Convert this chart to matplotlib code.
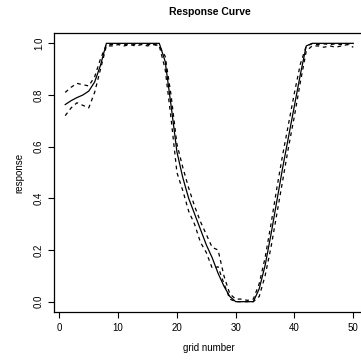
import numpy as np
import matplotlib
matplotlib.use("Agg")
import matplotlib.pyplot as plt

plt.rcParams['font.family'] = ['Liberation Sans', 'DejaVu Sans']

grid = np.arange(1, 51)

response = [0.763, 0.778, 0.790, 0.800, 0.815, 0.850, 0.915, 1.0, 1.0, 1.0,
            1.0, 1.0, 1.0, 1.0, 1.0, 1.0, 1.0, 0.93, 0.76, 0.58,
            0.48, 0.40, 0.34, 0.28, 0.22, 0.17, 0.11, 0.06, 0.02, 0.0,
            0.0, 0.0, 0.0, 0.05, 0.14, 0.26, 0.39, 0.52, 0.64, 0.76,
            0.88, 0.99, 1.0, 1.0, 1.0, 1.0, 1.0, 1.0, 1.0, 1.0]

upper = [0.81, 0.83, 0.845, 0.84, 0.835, 0.87, 0.94, 0.995, 0.995, 0.998,
         0.995, 0.998, 0.995, 0.998, 0.995, 0.998, 0.99, 0.95, 0.80, 0.61,
         0.52, 0.44, 0.37, 0.31, 0.26, 0.21, 0.20, 0.10, 0.03, 0.01,
         0.01, 0.005, 0.01, 0.07, 0.17, 0.30, 0.44, 0.57, 0.69, 0.81,
         0.92, 0.99, 0.998, 0.995, 0.998, 0.995, 0.998, 0.995, 0.998, 0.995]

lower = [0.72, 0.75, 0.77, 0.76, 0.75, 0.81, 0.90, 0.99, 0.99, 0.995,
         0.99, 0.995, 0.99, 0.995, 0.99, 0.995, 0.99, 0.90, 0.71, 0.50,
         0.43, 0.35, 0.30, 0.23, 0.19, 0.13, 0.135, 0.07, 0.01, 0.0,
         0.0, 0.0, 0.0, 0.02, 0.10, 0.21, 0.34, 0.47, 0.60, 0.72,
         0.85, 0.97, 0.99, 0.99, 0.985, 0.99, 0.985, 0.99, 0.995, 0.985]

fig = plt.figure(figsize=(3.61, 3.62), dpi=100)
ax = fig.add_axes([53.7 / 361, 1 - 312.0 / 362, 311.1 / 361, 279.0 / 362])

ax.plot(grid, response, color='black', lw=0.9)
ax.plot(grid, upper, color='black', lw=0.9, ls=(0, (3, 3)))
ax.plot(grid, lower, color='black', lw=0.9, ls=(0, (3, 3)))

ax.set_xlim(-0.96, 51.96)
ax.set_ylim(-0.04, 1.04)
ax.set_xticks([0, 10, 20, 30, 40, 50])
ax.set_yticks([0.0, 0.2, 0.4, 0.6, 0.8, 1.0])
ax.set_yticklabels(['0.0', '0.2', '0.4', '0.6', '0.8', '1.0'], rotation=90, va='center')
ax.tick_params(labelsize=7, length=4, width=0.8)
ax.tick_params(axis='x', pad=4)
ax.tick_params(axis='y', pad=3)
for s in ax.spines.values():
    s.set_linewidth(0.9)

ax.set_xlabel('grid number', fontsize=7, labelpad=7)
ax.set_ylabel('response', fontsize=7, labelpad=7)
fig.text(209.5 / 361, 1 - 12 / 362, 'Response Curve', fontsize=7.5,
         fontweight='bold', ha='center', va='center')

fig.savefig('out.png', dpi=100)
